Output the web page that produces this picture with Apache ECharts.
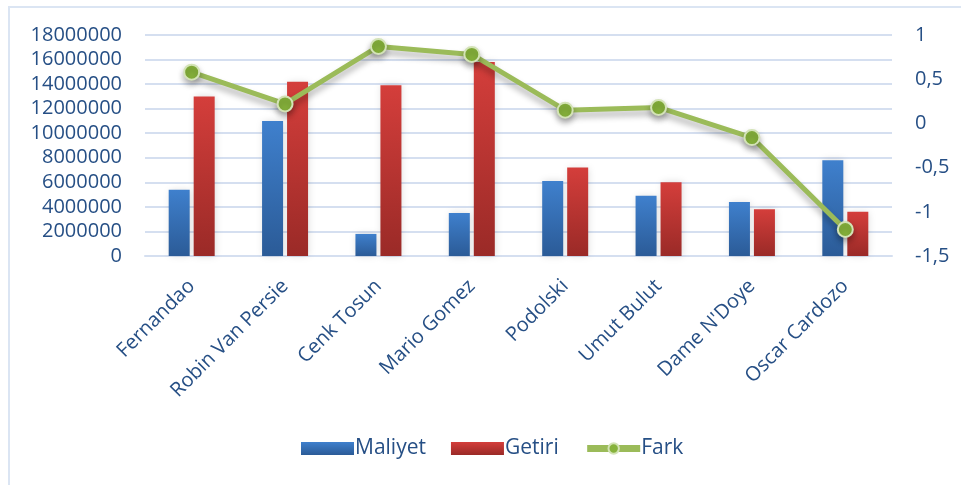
<!DOCTYPE html>
<html>
<head>
<meta charset="utf-8">
<script src="https://cdn.jsdelivr.net/npm/echarts@6/dist/echarts.min.js"></script>
<style>
  html, body { margin: 0; padding: 0; background: #ffffff; }
  #frame { position: absolute; left: 8px; top: 6px; width: 980px; height: 500px;
           border: 2px solid #dbe5f3; box-sizing: border-box; }
  #chart { position: absolute; left: 0; top: 0; width: 961px; height: 485px; }
</style>
</head>
<body>
<div id="frame"></div>
<div id="chart"></div>
<script>
// Player names on the category axis
const players = ['Fernandao', 'Robin Van Persie', 'Cenk Tosun', 'Mario Gomez',
                 'Podolski', 'Umut Bulut', "Dame N'Doye", 'Oscar Cardozo'];
// Cost and return per player
const maliyet = [5400000, 11000000, 1800000, 3500000, 6100000, 4900000, 4400000, 7800000];
const getiri  = [13000000, 14200000, 13900000, 15800000, 7200000, 6000000, 3800000, 3600000];
// Relative difference, plotted on the right axis
const fark    = [0.58, 0.22, 0.87, 0.78, 0.15, 0.18, -0.16, -1.2];

const textColor = '#264f85';
const font = '"Open Sans", sans-serif';

function vGrad(top, bottom) {
  return new echarts.graphic.LinearGradient(0, 0, 0, 1, [
    { offset: 0, color: top }, { offset: 1, color: bottom }
  ]);
}

const chart = echarts.init(document.getElementById('chart'), null, { renderer: 'canvas' });
chart.setOption({
  animation: false,
  backgroundColor: 'transparent',
  textStyle: { fontFamily: font },
  grid: { left: 145, right: 69, top: 35, bottom: 229, containLabel: false },
  legend: {
    left: 296, top: 433,
    itemWidth: 53, itemHeight: 13, itemGap: 25,
    textStyle: { color: textColor, fontSize: 21, fontFamily: font, padding: [0, 0, 0, -4] },
    data: [
      { name: 'Maliyet', icon: 'rect' },
      { name: 'Getiri', icon: 'rect' },
      {
        name: 'Fark',
        lineStyle: { width: 7, color: '#9bbb59' },
        itemStyle: { color: '#86b23b', borderColor: '#d3e3b6', borderWidth: 2 }
      }
    ]
  },
  xAxis: {
    type: 'category',
    data: players,
    axisLine: { show: true, lineStyle: { color: '#d5dff0', width: 2 } },
    axisTick: { show: false },
    axisLabel: { rotate: 45, margin: 27, color: textColor, fontSize: 20, fontFamily: font, interval: 0 }
  },
  yAxis: [
    {
      type: 'value', min: 0, max: 18000000, interval: 2000000,
      axisLine: { show: false }, axisTick: { show: false },
      splitLine: { lineStyle: { color: '#d5dff0', width: 2 } },
      axisLabel: {
        margin: 23, color: textColor, fontSize: 20, fontFamily: font,
        formatter: v => String(v)
      }
    },
    {
      type: 'value', min: -1.5, max: 1, interval: 0.5,
      axisLine: { show: false }, axisTick: { show: false },
      splitLine: { show: false },
      axisLabel: {
        margin: 23, color: textColor, fontSize: 20, fontFamily: font,
        formatter: v => String(v).replace('.', ',')
      }
    }
  ],
  series: [
    {
      name: 'Maliyet', type: 'bar', data: maliyet, yAxisIndex: 0,
      barWidth: 21, barGap: '19%',
      itemStyle: {
        color: vGrad('#3f80cd', '#2b5b97'),
        shadowColor: 'rgba(0,0,0,0.14)', shadowBlur: 7, shadowOffsetX: 1
      }
    },
    {
      name: 'Getiri', type: 'bar', data: getiri, yAxisIndex: 0,
      barWidth: 21,
      itemStyle: {
        color: vGrad('#d43e3b', '#9a2a27'),
        shadowColor: 'rgba(0,0,0,0.14)', shadowBlur: 7, shadowOffsetX: 1
      }
    },
    {
      name: 'Fark', type: 'line', data: fark, yAxisIndex: 1,
      symbol: 'circle', symbolSize: 15,
      lineStyle: {
        color: '#9bbb59', width: 5,
        shadowColor: 'rgba(0,0,0,0.3)', shadowBlur: 6, shadowOffsetY: 5
      },
      itemStyle: {
        color: '#86b23b', borderColor: '#d3e3b6', borderWidth: 2,
        shadowColor: 'rgba(0,0,0,0.3)', shadowBlur: 6, shadowOffsetY: 4
      },
      z: 5
    }
  ]
});
</script>
</body>
</html>
